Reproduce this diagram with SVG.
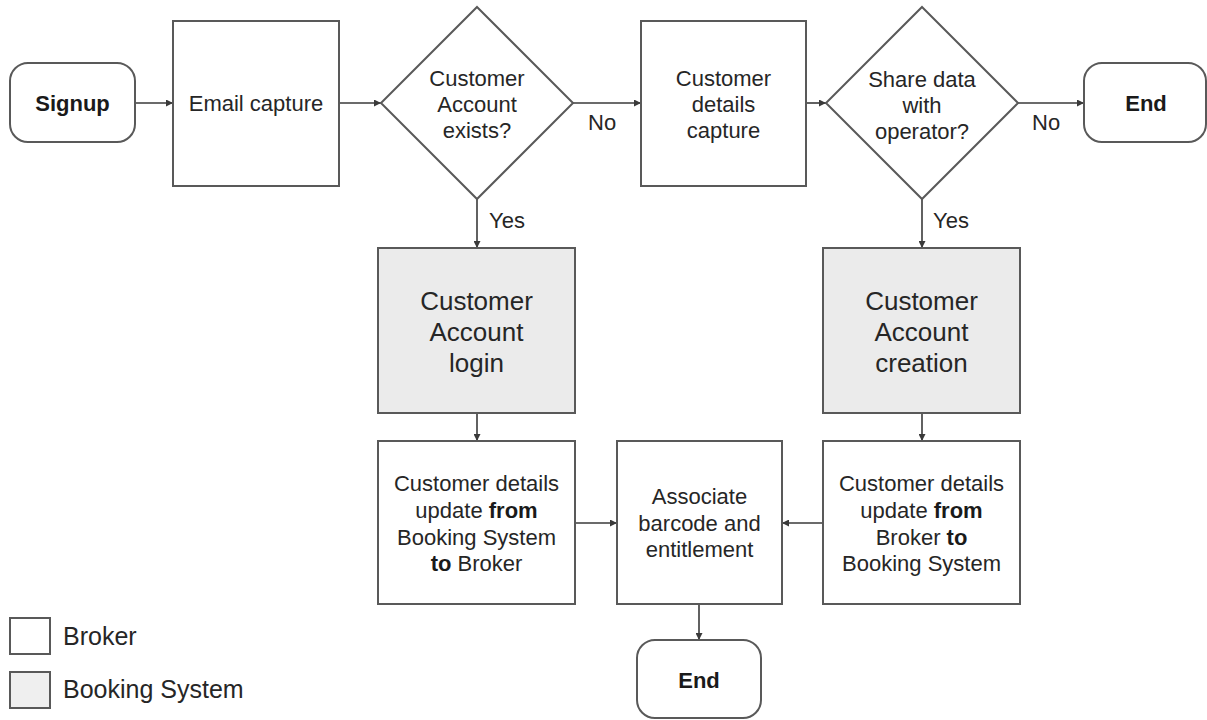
<svg xmlns="http://www.w3.org/2000/svg" width="1207" height="720" viewBox="0 0 1207 720">
<defs>
<marker id="arr" viewBox="0 0 8 8" refX="8" refY="4" markerWidth="7" markerHeight="7" markerUnits="userSpaceOnUse" orient="auto">
<path d="M0,0 L8,4 L0,8 z" fill="#3a3a3a"/>
</marker>
<style>
.shape{fill:#ffffff;stroke:#595959;stroke-width:2}
.sys{fill:#ebebeb;stroke:#595959;stroke-width:2}
.leg2{fill:#efefef;stroke:#595959;stroke-width:2}
.t{font-family:"Liberation Sans",Arial,sans-serif;font-size:22px;fill:#262626;text-anchor:middle}
.tb{font-family:"Liberation Sans",Arial,sans-serif;font-size:22px;font-weight:bold;fill:#1a1a1a;text-anchor:middle}
.big{font-family:"Liberation Sans",Arial,sans-serif;font-size:26px;fill:#262626;text-anchor:middle}
.leg{font-family:"Liberation Sans",Arial,sans-serif;font-size:25px;fill:#262626}
.lbl{font-family:"Liberation Sans",Arial,sans-serif;font-size:22px;fill:#262626}
.c{fill:none;stroke:#3a3a3a;stroke-width:1.6;marker-end:url(#arr)}
b{font-weight:bold}
</style>
</defs>
<rect width="1207" height="720" fill="#ffffff"/>

<g id="connectors">
<line class="c" x1="135" y1="103" x2="173" y2="103"/>
<line class="c" x1="339" y1="103" x2="381" y2="103"/>
<line class="c" x1="573" y1="103" x2="641" y2="103"/>
<line class="c" x1="806" y1="103" x2="826" y2="103"/>
<line class="c" x1="1018" y1="103" x2="1084" y2="103"/>
<line class="c" x1="477" y1="199" x2="477" y2="248"/>
<line class="c" x1="922" y1="199" x2="922" y2="248"/>
<line class="c" x1="477" y1="413" x2="477" y2="441"/>
<line class="c" x1="922" y1="413" x2="922" y2="441"/>
<line class="c" x1="575" y1="523" x2="617" y2="523"/>
<line class="c" x1="823" y1="523" x2="782" y2="523"/>
<line class="c" x1="699" y1="604" x2="699" y2="640"/>
<text class="lbl" x="588" y="130">No</text>
<text class="lbl" x="1032" y="130">No</text>
<text class="lbl" x="489" y="228">Yes</text>
<text class="lbl" x="933" y="228">Yes</text>
</g>

<g id="signup">
<rect class="shape" x="10" y="63" width="125" height="79" rx="18"/>
<text class="tb" x="72.5" y="111">Signup</text>
</g>

<g id="email-capture">
<rect class="shape" x="173" y="21" width="166" height="165"/>
<text class="t" x="256" y="111">Email capture</text>
</g>

<g id="account-exists">
<polygon class="shape" points="477,7 573,103 477,199 381,103"/>
<text class="t" x="477" y="86">Customer</text>
<text class="t" x="477" y="112">Account</text>
<text class="t" x="477" y="138">exists?</text>
</g>

<g id="details-capture">
<rect class="shape" x="641" y="21" width="165" height="165"/>
<text class="t" x="723.5" y="86">Customer</text>
<text class="t" x="723.5" y="112">details</text>
<text class="t" x="723.5" y="138">capture</text>
</g>

<g id="share-data">
<polygon class="shape" points="922,7 1018,103 922,199 826,103"/>
<text class="t" x="922" y="87">Share data</text>
<text class="t" x="922" y="113">with</text>
<text class="t" x="922" y="139">operator?</text>
</g>

<g id="end-top">
<rect class="shape" x="1084" y="63" width="122" height="79" rx="18"/>
<text class="tb" x="1146" y="111">End</text>
</g>

<g id="account-login">
<rect class="sys" x="378" y="248" width="197" height="165"/>
<text class="big" x="476.5" y="310">Customer</text>
<text class="big" x="476.5" y="341">Account</text>
<text class="big" x="476.5" y="372">login</text>
</g>

<g id="account-creation">
<rect class="sys" x="823" y="248" width="197" height="165"/>
<text class="big" x="921.5" y="310">Customer</text>
<text class="big" x="921.5" y="341">Account</text>
<text class="big" x="921.5" y="372">creation</text>
</g>

<g id="update-to-broker">
<rect class="shape" x="378" y="441" width="197" height="163"/>
<text class="t" x="476.5" y="491">Customer details</text>
<text class="t" x="476.5" y="518">update <tspan font-weight="bold" fill="#1a1a1a">from</tspan></text>
<text class="t" x="476.5" y="545">Booking System</text>
<text class="t" x="476.5" y="571"><tspan font-weight="bold" fill="#1a1a1a">to</tspan> Broker</text>
</g>

<g id="associate">
<rect class="shape" x="617" y="441" width="165" height="163"/>
<text class="t" x="699.5" y="504">Associate</text>
<text class="t" x="699.5" y="531">barcode and</text>
<text class="t" x="699.5" y="557">entitlement</text>
</g>

<g id="update-to-booking">
<rect class="shape" x="823" y="441" width="197" height="163"/>
<text class="t" x="921.5" y="491">Customer details</text>
<text class="t" x="921.5" y="518">update <tspan font-weight="bold" fill="#1a1a1a">from</tspan></text>
<text class="t" x="921.5" y="545">Broker <tspan font-weight="bold" fill="#1a1a1a">to</tspan></text>
<text class="t" x="921.5" y="571">Booking System</text>
</g>

<g id="end-bottom">
<rect class="shape" x="637" y="640" width="124" height="78" rx="18"/>
<text class="tb" x="699" y="688">End</text>
</g>

<g id="legend">
<rect class="shape" x="10" y="618" width="40" height="36"/>
<text class="leg" x="63" y="645">Broker</text>
<rect class="leg2" x="10" y="672" width="40" height="36"/>
<text class="leg" x="63" y="698">Booking System</text>
</g>
</svg>
